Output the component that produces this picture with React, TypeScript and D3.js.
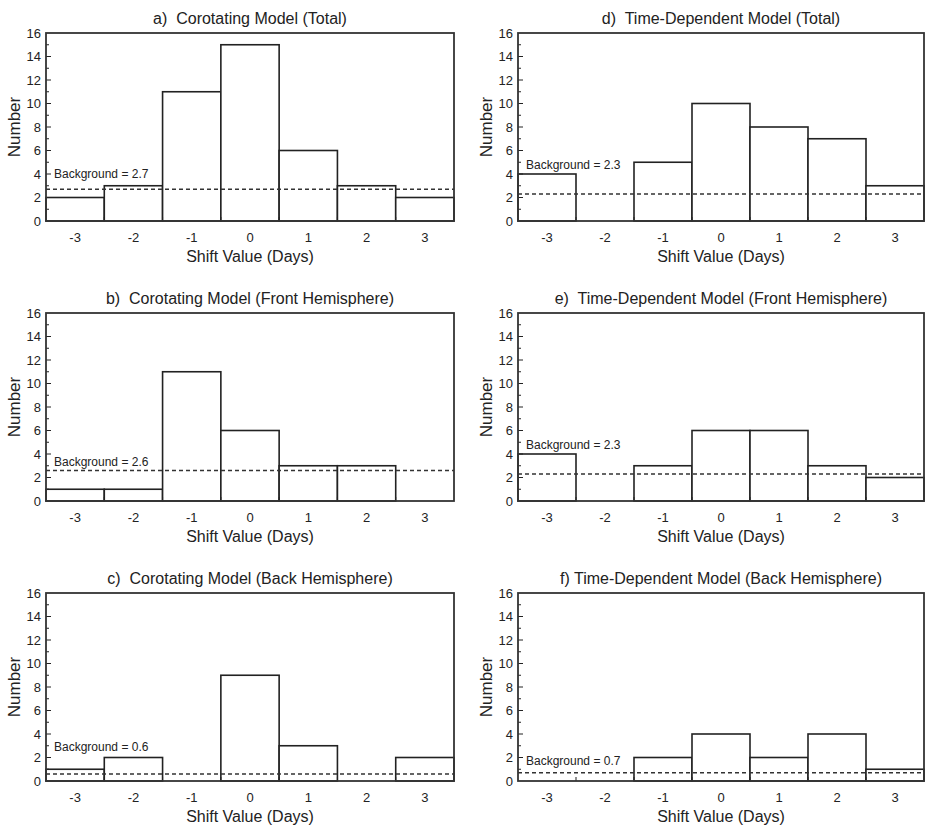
import React, { useEffect, useRef } from 'react';
import * as d3 from 'd3';

// shift bins (days) and y ticks
const shiftDays = [-3, -2, -1, 0, 1, 2, 3];
const yTickValues = [0, 2, 4, 6, 8, 10, 12, 14, 16];

// counts per bin
const corotTotal = [2, 3, 11, 15, 6, 3, 2];
const corotFront = [1, 1, 11, 6, 3, 3, 0];
const corotBack = [1, 2, 0, 9, 3, 0, 2];
const timeDepTotal = [4, 0, 5, 10, 8, 7, 3];
const timeDepFront = [4, 0, 3, 6, 6, 3, 2];
const timeDepBack = [0, 0, 2, 4, 2, 4, 1];

const backgrounds = [2.7, 2.6, 0.6, 2.3, 2.3, 0.7];

const titles = [
  'a)  Corotating Model (Total)',
  'b)  Corotating Model (Front Hemisphere)',
  'c)  Corotating Model (Back Hemisphere)',
  'd)  Time-Dependent Model (Total)',
  'e)  Time-Dependent Model (Front Hemisphere)',
  'f) Time-Dependent Model (Back Hemisphere)',
];

const seriesList = [corotTotal, corotFront, corotBack, timeDepTotal, timeDepFront, timeDepBack];

// height (in counts) where the "Background = x" note sits
const noteLevels = [4.0, 3.3, 2.9, 4.8, 4.8, 1.7];

const FONT = '"Liberation Sans", Arial, sans-serif';
const INK = '#222';

const App = () => {
  const ref = useRef<SVGSVGElement>(null);

  useEffect(() => {
    const svg = d3.select(ref.current);
    svg.selectAll('*').remove();

    const cols = [
      { x0: 46, x1: 454 },
      { x0: 518, x1: 924 },
    ];

    seriesList.forEach((values, i) => {
      const col = cols[Math.floor(i / 3)];
      const row = i % 3;
      const top = 33 + row * 280;
      const bottom = top + 188;

      const x = d3.scaleLinear().domain([-3.5, 3.5]).range([col.x0, col.x1]);
      const y = d3.scaleLinear().domain([0, 16]).range([bottom, top]);

      const g = svg.append('g').attr('font-family', FONT).attr('fill', INK);

      // bars
      g.selectAll('rect.bar')
        .data(values.map((v, k) => ({ v, d: shiftDays[k] })).filter((d) => d.v > 0))
        .enter()
        .append('rect')
        .attr('class', 'bar')
        .attr('x', (d) => x(d.d - 0.5))
        .attr('y', (d) => y(d.v))
        .attr('width', (d) => x(d.d + 0.5) - x(d.d - 0.5))
        .attr('height', (d) => y(0) - y(d.v))
        .attr('fill', 'white')
        .attr('stroke', INK)
        .attr('stroke-width', 1.6);

      // background level
      g.append('line')
        .attr('x1', x(-3.5))
        .attr('x2', x(3.5))
        .attr('y1', y(backgrounds[i]))
        .attr('y2', y(backgrounds[i]))
        .attr('stroke', '#333')
        .attr('stroke-width', 1.4)
        .attr('stroke-dasharray', '4,3');

      g.append('text')
        .attr('x', col.x0 + 8)
        .attr('y', y(noteLevels[i]))
        .attr('dy', '0.35em')
        .attr('font-size', 12)
        .text(`Background = ${backgrounds[i].toFixed(1)}`);

      // y ticks (inward, every 1)
      g.selectAll('line.yt')
        .data(d3.range(1, 16))
        .enter()
        .append('line')
        .attr('x1', x(-3.5))
        .attr('x2', (d) => x(-3.5) + (d % 2 === 0 ? 5 : 3))
        .attr('y1', (d) => y(d))
        .attr('y2', (d) => y(d))
        .attr('stroke', INK)
        .attr('stroke-width', 1);

      // x ticks at bin edges
      g.selectAll('line.xt')
        .data(d3.range(-2.5, 3, 1))
        .enter()
        .append('line')
        .attr('x1', (d) => x(d))
        .attr('x2', (d) => x(d))
        .attr('y1', y(0))
        .attr('y2', y(0) - 4)
        .attr('stroke', INK)
        .attr('stroke-width', 1);

      // frame
      g.append('rect')
        .attr('x', col.x0)
        .attr('y', top)
        .attr('width', col.x1 - col.x0)
        .attr('height', bottom - top)
        .attr('fill', 'none')
        .attr('stroke', '#333')
        .attr('stroke-width', 1.8);

      // y tick labels
      g.selectAll('text.yl')
        .data(yTickValues)
        .enter()
        .append('text')
        .attr('x', col.x0 - 5)
        .attr('y', (d) => y(d))
        .attr('dy', '0.35em')
        .attr('text-anchor', 'end')
        .attr('font-size', 13)
        .text((d) => d);

      // x tick labels
      g.selectAll('text.xl')
        .data(shiftDays)
        .enter()
        .append('text')
        .attr('x', (d) => x(d))
        .attr('y', bottom + 16)
        .attr('dy', '0.35em')
        .attr('text-anchor', 'middle')
        .attr('font-size', 13)
        .text((d) => d);

      // axis titles
      g.append('text')
        .attr('x', (col.x0 + col.x1) / 2)
        .attr('y', bottom + 35)
        .attr('dy', '0.35em')
        .attr('text-anchor', 'middle')
        .attr('font-size', 16)
        .text('Shift Value (Days)');

      g.append('text')
        .attr('transform', `translate(${col.x0 - 32},${(top + bottom) / 2}) rotate(-90)`)
        .attr('dy', '0.35em')
        .attr('text-anchor', 'middle')
        .attr('font-size', 17)
        .text('Number');

      // panel title
      g.append('text')
        .attr('x', (col.x0 + col.x1) / 2)
        .attr('y', top - 9)
        .attr('text-anchor', 'middle')
        .attr('font-size', 16)
        .style('white-space', 'pre')
        .text(titles[i]);
    });
  }, []);

  return (
    <svg
      ref={ref}
      width={926}
      height={831}
      style={{ position: 'absolute', left: 0, top: 0, background: 'white' }}
    />
  );
};

export default App;
